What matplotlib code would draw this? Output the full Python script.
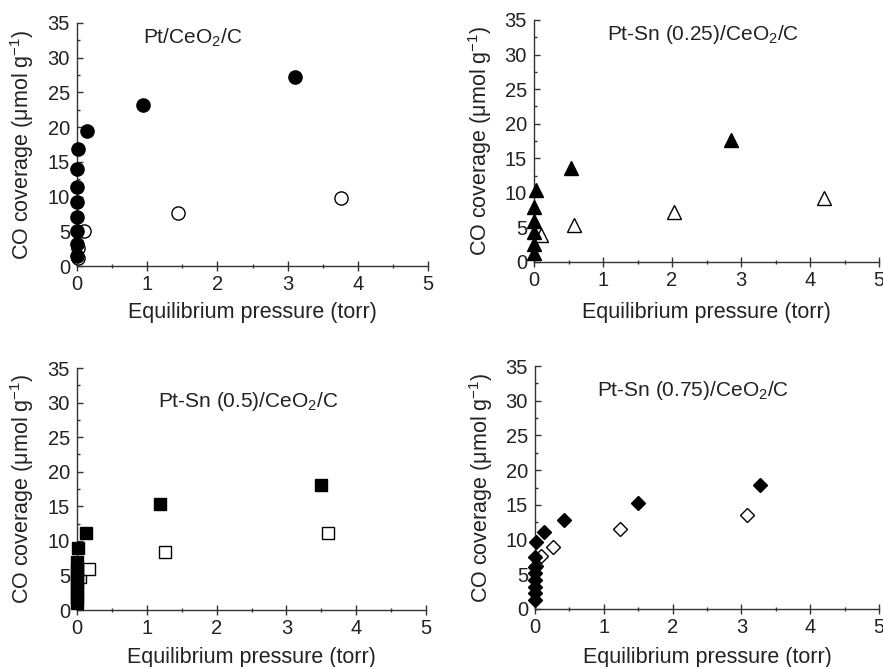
import matplotlib
matplotlib.use("Agg")
import matplotlib.pyplot as plt
from matplotlib.ticker import MultipleLocator

plt.rcParams['font.family'] = ['Liberation Sans', 'DejaVu Sans']
plt.rcParams['mathtext.fontset'] = 'custom'
plt.rcParams['mathtext.rm'] = 'Liberation Sans'
plt.rcParams['mathtext.it'] = 'Liberation Sans'

# Pt/CeO2/C
pt_fill_x = [0, 0, 0, 0, 0, 0, 0, 0.02, 0.14, 0.94, 3.1]
pt_fill_y = [1.4, 3.2, 5.1, 7.1, 9.2, 11.4, 13.9, 16.9, 19.4, 23.2, 27.2]
pt_open_x = [0.02, 0.02, 0.1, 1.44, 3.76]
pt_open_y = [1.2, 2.6, 5.0, 7.6, 9.8]

# Pt-Sn (0.25)
s25_fill_x = [0, 0, 0, 0, 0, 0.03, 0.53, 2.86]
s25_fill_y = [1.3, 2.6, 4.3, 5.9, 7.9, 10.4, 13.6, 17.6]
s25_open_x = [0.1, 0.58, 2.03, 4.2]
s25_open_y = [3.9, 5.3, 7.3, 9.2]

# Pt-Sn (0.5)
s50_fill_x = [0, 0, 0, 0, 0, 0, 0, 0, 0.01, 0.13, 1.19, 3.5]
s50_fill_y = [1.0, 1.8, 2.6, 3.4, 4.2, 5.0, 5.6, 6.9, 8.9, 11.2, 15.4, 18.1]
s50_open_x = [0.05, 0.17, 1.26, 3.6]
s50_open_y = [4.8, 5.9, 8.4, 11.1]

# Pt-Sn (0.75)
s75_fill_x = [0, 0, 0, 0, 0, 0, 0, 0.02, 0.13, 0.42, 1.49, 3.27]
s75_fill_y = [1.3, 2.3, 3.2, 4.2, 5.2, 6.1, 7.5, 9.6, 11.1, 12.8, 15.3, 17.8]
s75_open_x = [0.02, 0.08, 0.26, 1.24, 3.08]
s75_open_y = [6.2, 7.7, 9.0, 11.5, 13.5]

W, H = 883, 667
fig = plt.figure(figsize=(W / 100, H / 100), dpi=100)


def make_ax(x0, x1, ytop, ybot):
    return fig.add_axes([x0 / W, 1 - ybot / H, (x1 - x0) / W, (ybot - ytop) / H])


panels = [
    (make_ax(77, 428, 23, 266), 'o', 9.5, pt_fill_x, pt_fill_y, pt_open_x, pt_open_y,
     r'Pt/CeO$_2$/C', 0.33, 0.94, -0.19),
    (make_ax(534, 879, 20, 262), '^', 9.5, s25_fill_x, s25_fill_y, s25_open_x, s25_open_y,
     r'Pt-Sn (0.25)/CeO$_2$/C', 0.49, 0.94, -0.21),
    (make_ax(77, 426, 368, 610), 's', 9, s50_fill_x, s50_fill_y, s50_open_x, s50_open_y,
     r'Pt-Sn (0.5)/CeO$_2$/C', 0.49, 0.86, -0.198),
    (make_ax(535, 879, 366, 609), 'D', 7, s75_fill_x, s75_fill_y, s75_open_x, s75_open_y,
     r'Pt-Sn (0.75)/CeO$_2$/C', 0.46, 0.90, -0.20),
]

for ax, mk, ms, fx, fy, ox, oy, title, tx, ty, xly in panels:
    ax.plot(ox, oy, ls='none', marker=mk, ms=ms, mfc='white', mec='black', mew=1.0, clip_on=False, zorder=3)
    ax.plot(fx, fy, ls='none', marker=mk, ms=ms, mfc='black', mec='black', mew=1.0, clip_on=False, zorder=4)
    ax.set_xlim(0, 5)
    ax.set_ylim(0, 35)
    ax.xaxis.set_major_locator(MultipleLocator(1))
    ax.xaxis.set_minor_locator(MultipleLocator(0.5))
    ax.yaxis.set_major_locator(MultipleLocator(5))
    ax.yaxis.set_minor_locator(MultipleLocator(2.5))
    for s in ['top', 'right']:
        ax.spines[s].set_visible(False)
    for s in ['left', 'bottom']:
        ax.spines[s].set_linewidth(1.0)
        ax.spines[s].set_color('#333333')
    ax.tick_params(axis='x', which='major', direction='inout', length=7, width=1, labelsize=14.5, pad=3,
                   colors='#333333', labelcolor='#222222')
    ax.tick_params(axis='x', which='minor', direction='inout', length=3, width=1, colors='#333333')
    ax.tick_params(axis='y', which='major', direction='in', length=4, width=1, labelsize=14.5, pad=5,
                   colors='#333333', labelcolor='#222222')
    ax.tick_params(axis='y', which='minor', direction='in', length=2.5, width=1, colors='#333333')
    ax.set_xlabel('Equilibrium pressure (torr)', fontsize=15.5, color='#222222', va='center')
    ax.xaxis.set_label_coords(0.5, xly)
    ax.set_ylabel(r'CO coverage ($\mu$mol g$^{-1}$)', fontsize=15.5, color='#222222', va='center')
    ax.yaxis.set_label_coords(-0.157, 0.5)
    ax.text(tx, ty, title, transform=ax.transAxes, ha='center', va='center', fontsize=15, color='#222222')

fig.savefig('out.png', dpi=100)
